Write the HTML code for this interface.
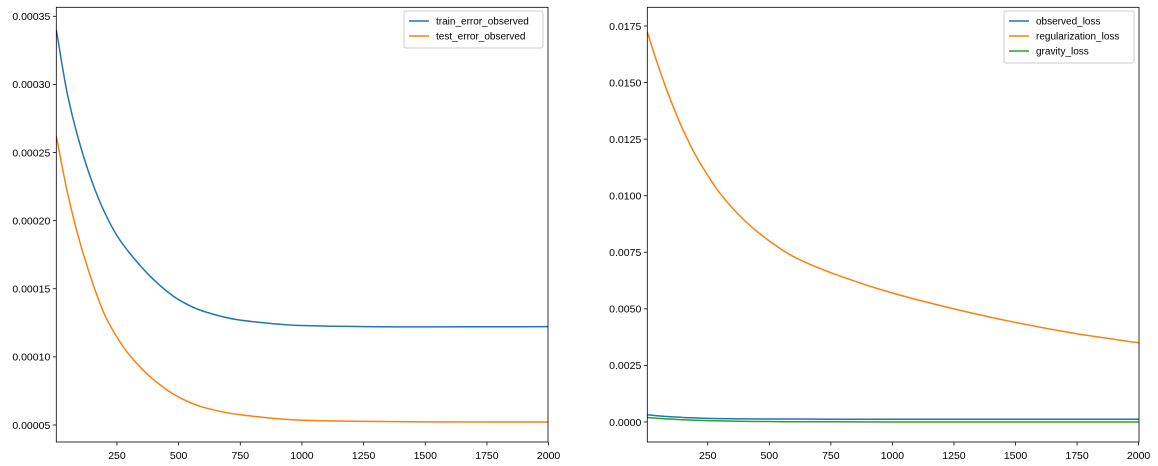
<!DOCTYPE html>
<html><head><meta charset="utf-8"><style>
html,body{margin:0;padding:0;background:#fff;}
svg{display:block;font-family:"Liberation Sans","DejaVu Sans",sans-serif;}
</style></head><body>
<svg id="fig" width="1158" height="466" viewBox="0 0 1158 466"></svg>
<script>
const xs = [4,50,100,150,200,250,300,400,500,600,750,1000,1250,1500,1750,2000];
const trainErr = [0.000340,0.000292,0.000256,0.000228,0.000206,0.000189,0.0001765,0.0001565,0.000142,0.0001335,0.000127,0.000123,0.0001222,0.0001220,0.0001221,0.0001222];
const testErr = [0.000262,0.000220,0.000184,0.000155,0.000131,0.0001145,0.0001015,0.0000830,0.0000705,0.000063,0.0000575,0.0000535,0.0000527,0.0000523,0.0000522,0.0000522];
const regLoss = [0.01725,0.0157,0.0142,0.0129,0.0118,0.0109,0.0101,0.0089,0.0080,0.0073,0.0066,0.0057,0.0050,0.0044,0.0039,0.0035];
const obsLoss = [0.00032,0.00027,0.00023,0.00020,0.00018,0.00016,0.00015,0.00014,0.00013,0.00013,0.00012,0.00012,0.00012,0.00012,0.00012,0.00012];
const gravLoss = [0.00020,0.00016,0.00013,0.00010,0.00008,0.00006,0.00005,0.00003,0.00002,0.00001,0.00001,0.0,0.0,0.0,0.0,0.0];
const xTicks = [250,500,750,1000,1250,1500,1750,2000];
const leftYTicks = [0.00005,0.00010,0.00015,0.00020,0.00025,0.00030,0.00035];
const rightYTicks = [0,0.0025,0.005,0.0075,0.01,0.0125,0.015,0.0175];

const NS="http://www.w3.org/2000/svg";
const svg=document.getElementById('fig');
function mk(tag,attrs,parent){const e=document.createElementNS(NS,tag);for(const k in attrs)e.setAttribute(k,attrs[k]);(parent||svg).appendChild(e);return e;}

function monoPath(P){
  const n=P.length,d=[],m=[];
  for(let i=0;i<n-1;i++)d.push((P[i+1][1]-P[i][1])/(P[i+1][0]-P[i][0]));
  m[0]=d[0];m[n-1]=d[n-2];
  for(let i=1;i<n-1;i++){m[i]=(d[i-1]*d[i]<=0)?0:2/(1/d[i-1]+1/d[i]);}
  let s='M'+P[0][0].toFixed(2)+','+P[0][1].toFixed(2);
  for(let i=0;i<n-1;i++){
    const h=P[i+1][0]-P[i][0];
    s+='C'+(P[i][0]+h/3).toFixed(2)+','+(P[i][1]+m[i]*h/3).toFixed(2)+' '+
      (P[i+1][0]-h/3).toFixed(2)+','+(P[i+1][1]-m[i+1]*h/3).toFixed(2)+' '+
      P[i+1][0].toFixed(2)+','+P[i+1][1].toFixed(2);
  }
  return s;
}

function panel(cfg){
  const g=mk('g',{});
  
  
  const L=cfg.l,R=cfg.r,T=cfg.t,B=cfg.b;
  const sx=v=>cfg.x0px+(v-0)*(cfg.x2000px-cfg.x0px)/2000;
  const sy=v=>cfg.yref0px+(v-cfg.yref0)*(cfg.yref1px-cfg.yref0px)/(cfg.yref1-cfg.yref0);
  const cid='clip'+cfg.name;
  const cp=mk('clipPath',{id:cid},g);mk('rect',{x:L,y:T,width:R-L,height:B-T},cp);
  const lines=mk('g',{'clip-path':'url(#'+cid+')'},g);
  cfg.series.forEach(s=>{
    const d=monoPath(xs.map((x,i)=>[sx(x),sy(s.data[i])]));
    const p=mk('path',{d:d,fill:'none',stroke:s.color,'stroke-width':1.5,'stroke-linejoin':'round'},lines);
    
    
  });
  const frame=mk('rect',{x:L,y:T,width:R-L,height:B-T,fill:'none',stroke:'#000','stroke-width':0.8},g);
  
  
  xTicks.forEach(t=>{
    const x=sx(t);
    mk('line',{x1:x,x2:x,y1:B,y2:B+3.5,stroke:'#000','stroke-width':0.8},g);
    const tx=mk('text',{x:x,y:B+17,'text-anchor':'middle','font-size':10.5,fill:'#000'},g);
    tx.textContent=t;
    
    
  });
  cfg.yTicks.forEach(t=>{
    const y=sy(t);
    mk('line',{x1:L-3.5,x2:L,y1:y,y2:y,stroke:'#000','stroke-width':0.8},g);
    const tx=mk('text',{x:L-6,y:y+3.8,'text-anchor':'end','font-size':10.5,fill:'#000'},g);
    tx.textContent=t.toFixed(cfg.dec);
    
    
  });
  const lg=mk('g',{},g);
  
  
  mk('rect',{x:cfg.lx,y:cfg.ly,width:cfg.lw,height:cfg.series.length*15+7,rx:2,fill:'#fff',stroke:'#ccc','stroke-width':1},lg);
  cfg.series.forEach((s,i)=>{
    const y=cfg.ly+10+i*15;
    mk('line',{x1:cfg.lx+5,x2:cfg.lx+25,y1:y,y2:y,stroke:s.color,'stroke-width':1.5},lg);
    const tx=mk('text',{x:cfg.lx+32,y:y+3.5,'font-size':10,fill:'#000'},lg);
    tx.textContent=s.key;
    
    
  });
}
panel({name:'left-panel',l:56.3,r:548,t:7.3,b:442,x0px:55.3,x2000px:548.6,
  yref0:0.00005,yref0px:425,yref1:0.00035,yref1px:16.3,yTicks:leftYTicks,dec:5,
  lx:404,ly:11,lw:139,
  series:[{key:'train_error_observed',color:'#1f77b4',data:trainErr},{key:'test_error_observed',color:'#ff7f0e',data:testErr}]});
panel({name:'right-panel',l:647.3,r:1139,t:7.3,b:442,x0px:646.2,x2000px:1138.6,
  yref0:0,yref0px:422,yref1:0.0175,yref1px:26,yTicks:rightYTicks,dec:4,
  lx:1004,ly:11,lw:130,
  series:[{key:'observed_loss',color:'#1f77b4',data:obsLoss},{key:'regularization_loss',color:'#ff7f0e',data:regLoss},{key:'gravity_loss',color:'#2ca02c',data:gravLoss}]});
</script>
</body></html>
